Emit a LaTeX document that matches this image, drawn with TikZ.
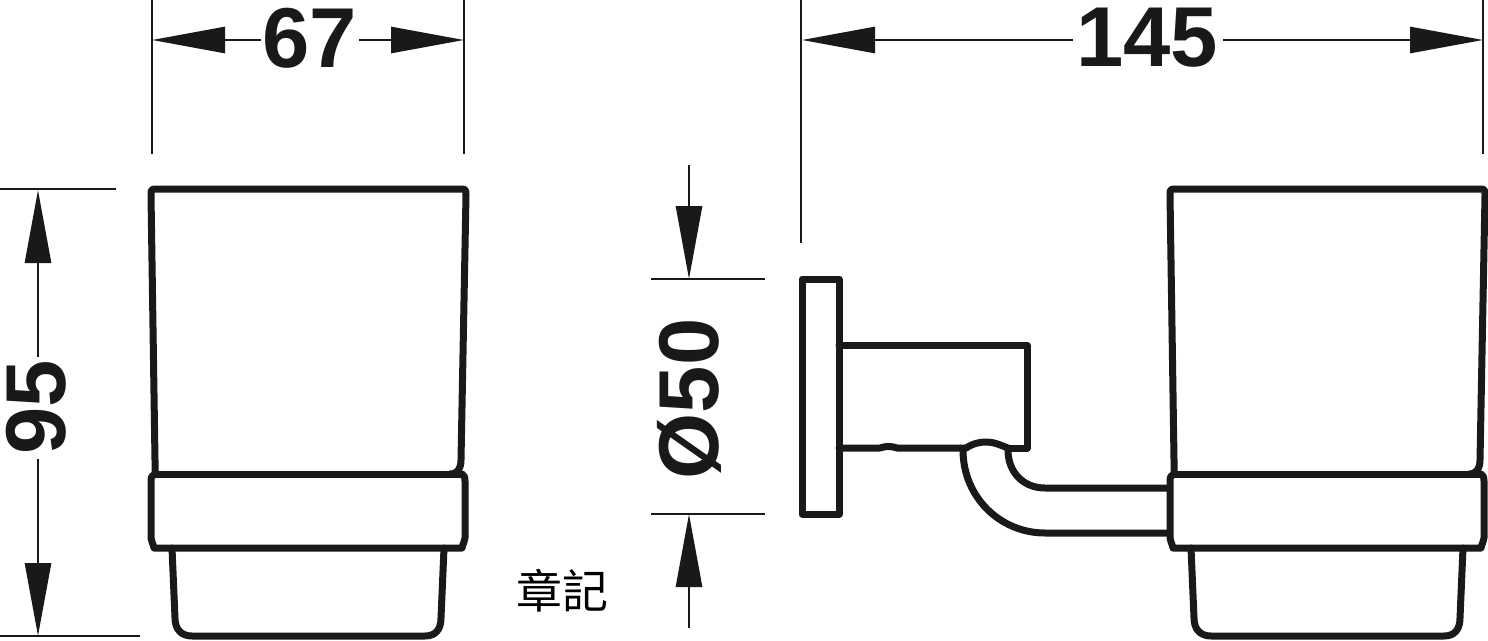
\documentclass[tikz,border=0pt]{standalone}
\usepackage{fontspec}
\setmainfont{Liberation Sans}
\newfontfamily\cjkfont{Noto Sans CJK TC}
\usetikzlibrary{arrows.meta, calc, positioning}
\tikzset{
  part/.style={line width=7pt,line join=round,line cap=round,black!90},
  dimline/.style={line width=2.8pt,black!90},
  dimpto/.style={dimline,-{Triangle[length=73pt,width=26pt]}},
  dimtext/.style={font=\fontsize{85}{85}\selectfont\bfseries,inner sep=0pt,outer sep=0pt,text=black!90}
}

\begin{document}
\begin{tikzpicture}[x=1pt,y=-1pt]
  \useasboundingbox (0,0) rectangle (1488,640);

  % width of cup
  \node[dimtext] (t67) at (310,38) {67};
  \coordinate (a67l) at (152,40);
  \coordinate (a67r) at (464,40);
  \draw[dimline] (152,0) -- (152,154);
  \draw[dimline] (464,0) -- (464,154);
  \draw[dimpto] (t67.west |- a67l) ++(-2,0) -- (a67l);
  \draw[dimpto] (t67.east |- a67r) ++(2,0) -- (a67r);

  % total depth
  \node[dimtext] (t145) at (1147,38) {145};
  \coordinate (a145l) at (802,40);
  \coordinate (a145r) at (1483,40);
  \draw[dimline] (801,0) -- (801,243);
  \draw[dimline] (1483,0) -- (1483,154);
  \draw[dimpto] (t145.west |- a145l) ++(-3,0) -- (a145l);
  \draw[dimpto] (t145.east |- a145r) ++(5,0) -- (a145r);

  % height
  \node[dimtext,rotate=90] (t95) at (36,407) {95};
  \coordinate (a95t) at (38,190);
  \coordinate (a95b) at (38,636);
  \draw[dimline] (0,189) -- (116,189);
  \draw[dimline] (0,636) -- (140,636);
  \draw[dimpto] (t95.east -| a95t) ++(0,-3) -- (a95t);
  \draw[dimpto] (t95.west -| a95b) ++(0,5) -- (a95b);

  % diameter of plate
  \node[dimtext,rotate=90] (t50) at (689,399) {Ø50};
  \coordinate (a50t) at (689,279);
  \coordinate (a50b) at (689,514);
  \coordinate (s50t) at (689,165);
  \coordinate (s50b) at (689,628);
  \draw[dimline] (651,279) -- (765,279);
  \draw[dimline] (651,514) -- (765,514);
  \draw[dimpto] (s50t) -- (a50t);
  \draw[dimpto] (s50b) -- (a50b);

  % the two cups
  \foreach \dx in {0,1019} {
    \begin{scope}[xshift=\dx pt]
      \draw[part] (155,474) .. controls (155,468) and (155,466) .. (155,460)
        -- (151,195) .. controls (151,191) and (151,189) .. (155,189)
        -- (462,189) .. controls (466,189) and (466,191) .. (466,195)
        -- (461,460) .. controls (461,468) and (458,474) .. (450,474);
      \draw[part] (155,474) -- (462,474);
      \draw[part] (155,474) .. controls (152,475) and (151,477) .. (151,481)
        -- (151,538) .. controls (151,541) and (153,543) .. (154,548)
        -- (462,548) .. controls (463,543) and (465,541) .. (465,538)
        -- (465,481) .. controls (465,477) and (464,475) .. (462,474);
      \draw[part] (172,548) -- (175,618) .. controls (175,630) and (182,636) .. (192,636)
        -- (425,636) .. controls (435,636) and (441,630) .. (441,618) -- (444,548);
    \end{scope}
  }

  % wall plate and arm
  \draw[part] (802,279) rectangle (839,514);
  \draw[part] (839,345) -- (1027,345) -- (1027,448) -- (1008,448);
  \draw[part] (839,448) -- (880,448) .. controls (885,446) and (892,446) .. (897,448) -- (966,448);
  \draw[part] (966,448) .. controls (974,443) and (980,442) .. (987,442)
    .. controls (994,442) and (1000,445) .. (1008,448);

  % tube
  \draw[part] (963,450) .. controls (963,497) and (1000,533) .. (1045,533) -- (1168,533);
  \draw[part] (1008,450) .. controls (1008,472) and (1023,488) .. (1045,488) -- (1168,488);

  \node[inner sep=0pt,font=\cjkfont\fontsize{46}{46}\selectfont] (mark) at (562,591) {章記};
\end{tikzpicture}
\end{document}
